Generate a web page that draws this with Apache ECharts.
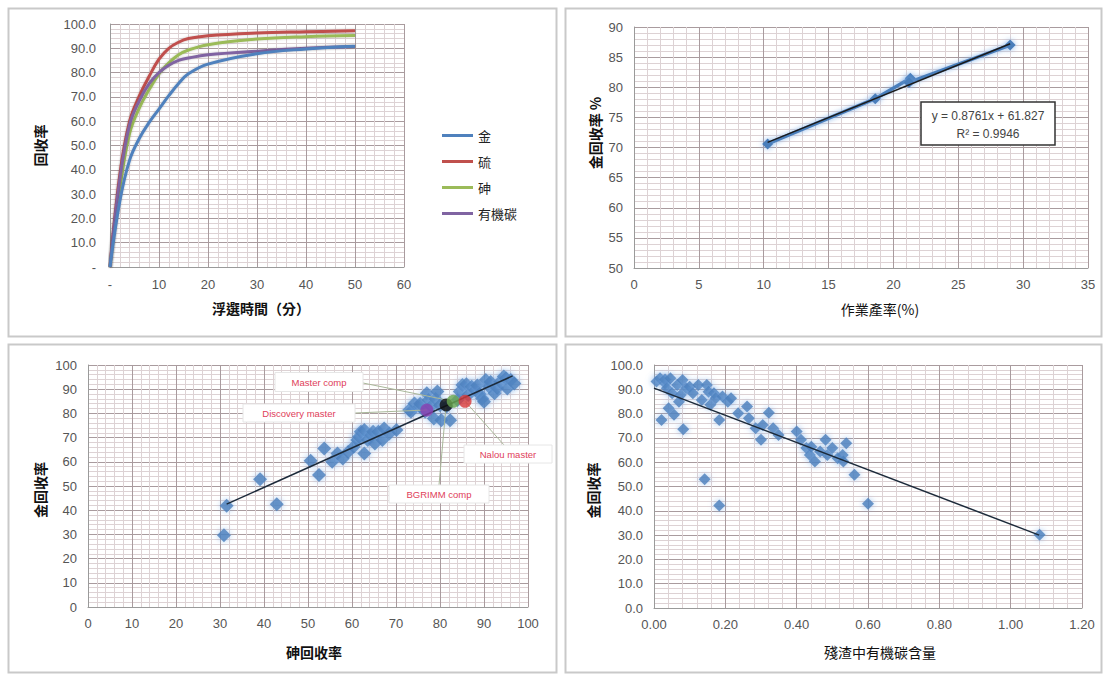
<!DOCTYPE html>
<html><head><meta charset="utf-8">
<script src="https://cdn.jsdelivr.net/npm/echarts@6/dist/echarts.min.js"></script>
<style>html,body{margin:0;padding:0;background:#fff}#c{width:1106px;height:676px}</style>
</head><body><div id="c"></div><script>
// ---------- Panel 1: flotation kinetics ----------
const p1Time    = [0,2,4,6,8,10,12,14,16,20,30,40,50];
const p1Gold    = [0,27,44,53,59.5,65,70.5,75.5,79.5,83.5,87.8,89.7,90.8];
const p1Sulfur  = [0,38,60,70.5,78.5,85.5,90,92.5,94,95.2,96.3,96.8,97.2];
const p1Arsenic = [0,32,55,65.5,73,79.5,84,87.3,89.3,91.5,93.8,94.8,95.3];
const p1Carbon  = [0,36,58.5,68.5,75.5,80,83,85,86,87.3,88.8,90,90.7];
const p1Names   = ['金','硫','砷','有機碳'];

// ---------- Panel 2: yield vs gold recovery ----------
const p2Yield    = [10.3, 18.6, 21.3, 21.2, 29.0];
const p2Recovery = [70.6, 78.1, 81.5, 80.8, 87.0];
const p2TrendX   = [10.3, 29.0];
const p2TrendY   = [70.85, 87.23];
const p2Equation = ['y = 0.8761x + 61.827', 'R² = 0.9946'];

// ---------- Panel 3: arsenic vs gold recovery ----------
const p3As = [30.9,31.5,39.1,42.9,50.6,52.5,53.7,55.5,56.7,57.9,59.1,60.4,61.2,61.6,62.0,62.8,62.8,63.6,64.4,64.8,65.2,66.0,66.9,67.3,68.5,70.1,73.0,73.4,74.2,75.4,75.5,76.6,77.0,77.4,78.0,78.6,79.0,79.4,80.0,80.3,81.5,82.3,84.0,84.5,85.1,86.0,86.4,87.2,88.0,88.5,89.0,89.6,90.0,90.4,91.2,91.5,92.4,93.0,93.7,94.5,95.0,95.3,96.1,96.9];
const p3Au = [29.7,41.8,52.8,42.5,60.4,54.5,65.5,60.0,63.4,61.4,64.1,66.2,69.0,70.3,72.4,63.4,73.1,69.0,71.0,72.4,67.6,72.4,69.0,73.8,71.7,73.1,81.4,80.7,84.1,82.8,84.0,80.7,88.3,85.5,83.0,77.9,86.0,89.0,83.4,77.2,82.8,77.2,85.5,89.0,91.7,92.0,87.6,91.0,89.7,91.5,88.0,86.2,84.8,93.8,91.0,93.0,88.3,90.5,93.1,95.2,94.5,90.3,93.8,92.4];
const p3TrendX = [31.5, 96.5];
const p3TrendY = [42.5, 95.5];
const p3MarkNames = ['Discovery master','BGRIMM comp','Master comp','Nalou master'];
const p3MarkX = [77.0, 81.4, 83.0, 85.7];
const p3MarkY = [81.4, 83.5, 85.0, 85.0];

// ---------- Panel 4: organic carbon in tailings vs gold recovery ----------
const p4C  = [0.007,0.017,0.021,0.031,0.031,0.036,0.041,0.046,0.051,0.056,0.065,0.070,0.075,0.080,0.082,0.090,0.100,0.109,0.124,0.134,0.142,0.148,0.153,0.158,0.168,0.173,0.183,0.183,0.192,0.207,0.216,0.236,0.261,0.266,0.285,0.300,0.305,0.322,0.334,0.349,0.400,0.412,0.427,0.437,0.441,0.451,0.466,0.481,0.486,0.500,0.515,0.529,0.531,0.539,0.562,0.600,1.081];
const p4Au = [93.2,94.5,77.4,92.5,94.0,90.4,82.2,94.5,88.4,79.5,91.8,84.9,87.7,93.8,73.6,90.4,91.1,88.4,91.8,85.6,53.0,91.8,89.0,83.6,88.4,86.3,77.4,42.2,87.0,84.9,86.3,80.1,82.9,78.1,74.0,69.2,75.3,80.4,74.0,71.2,72.6,69.2,65.8,63.0,66.4,60.3,64.4,69.2,63.0,65.8,61.6,63.0,60.3,67.8,54.8,42.9,30.1];
const p4TrendX = [0, 1.08];
const p4TrendY = [90.5, 30.0];

const zip = (a, b) => a.map((v, i) => [v, b[i]]);

const MAJOR = '#a99b9e', MINOR = '#ddd2d4', LBL = '#555';
const FONT = '"Liberation Sans", Arial, sans-serif';
const CJK = '"Noto Sans CJK TC", "Noto Sans CJK SC", sans-serif';

function axis(o) {
  return Object.assign({
    type: 'value',
    axisLine: { show: true, onZero: false, lineStyle: { color: '#9a9a9a', width: 1 } },
    axisTick: { show: false },
    axisLabel: { color: LBL, fontSize: 13, fontFamily: FONT, margin: 10 },
    splitLine: { show: true, lineStyle: { color: MAJOR, width: 1 } },
    minorTick: { show: false, splitNumber: 5 },
    minorSplitLine: { show: true, lineStyle: { color: MINOR, width: 1 } },
    nameLocation: 'middle',
    nameTextStyle: { color: '#111', fontSize: 14, fontFamily: CJK, fontWeight: 'bold' }
  }, o);
}

const grids = [
  { left: 110, top: 24, width: 294, height: 243 },
  { left: 634, top: 27, width: 454, height: 241 },
  { left: 88, top: 365, width: 440, height: 242 },
  { left: 654, top: 365, width: 428, height: 243 }
];

const lineColors = ['#4f81bd', '#c0504d', '#9bbb59', '#8064a2'];
const p1Series = [p1Gold, p1Sulfur, p1Arsenic, p1Carbon].map((d, i) => ({
  name: p1Names[i], type: 'line', xAxisIndex: 0, yAxisIndex: 0,
  data: zip(p1Time, d), smooth: 0.4, showSymbol: false, symbol: 'none',
  lineStyle: { color: lineColors[i], width: 3, shadowColor: 'rgba(0,0,0,0.25)', shadowBlur: 2 },
  itemStyle: { color: lineColors[i] }, z: 3 + (i === 0 ? 1 : 0)
}));

const diamondStyle = { color: '#4a7ebb', shadowColor: 'rgba(120,170,230,0.8)', shadowBlur: 6 };

const option = {
  animation: false,
  backgroundColor: '#fff',
  grid: grids,
  legend: {
    data: p1Names, orient: 'vertical', left: 437, top: 124, itemWidth: 31, itemHeight: 3,
    itemGap: 13, icon: 'rect', textStyle: { fontSize: 13, fontFamily: CJK, color: '#222' },
    selectedMode: false
  },
  xAxis: [
    axis({ gridIndex: 0, min: 0, max: 60, interval: 10, name: '浮選時間（分）', nameGap: 34,
      axisLabel: { color: LBL, fontSize: 13, fontFamily: FONT, margin: 11, formatter: v => v === 0 ? '-' : String(v) },
      nameTextStyle: { color: '#111', fontSize: 14, fontFamily: CJK, fontWeight: 'bold', padding: [0, 0, 0, 8] } }),
    axis({ gridIndex: 1, min: 0, max: 35, interval: 5, name: '作業產率(%)', nameGap: 34,
      nameTextStyle: { color: '#111', fontSize: 14, fontFamily: CJK, padding: [0, 0, 0, 38] } }),
    axis({ gridIndex: 2, min: 0, max: 100, interval: 10, name: '砷回收率', nameGap: 38,
      nameTextStyle: { color: '#111', fontSize: 14, fontFamily: CJK, fontWeight: 'bold', padding: [0, 0, 0, 12] } }),
    axis({ gridIndex: 3, min: 0, max: 1.2, interval: 0.2, name: '殘渣中有機碳含量', nameGap: 37,
      axisLabel: { color: LBL, fontSize: 13, fontFamily: FONT, margin: 10, formatter: v => v.toFixed(2) },
      nameTextStyle: { color: '#111', fontSize: 14, fontFamily: CJK, padding: [0, 0, 0, 24] } })
  ],
  yAxis: [
    axis({ gridIndex: 0, min: 0, max: 100, interval: 10, name: '回收率', nameGap: 63, nameRotate: 90,
      axisLabel: { color: LBL, fontSize: 13, fontFamily: FONT, margin: 14, formatter: v => v === 0 ? '-' : v.toFixed(1) } }),
    axis({ gridIndex: 1, min: 50, max: 90, interval: 5, name: '金回收率 %', nameGap: 32, nameRotate: 90,
      axisLabel: { color: LBL, fontSize: 13, fontFamily: FONT, margin: 11 },
      nameTextStyle: { color: '#111', fontSize: 14, fontFamily: CJK, fontWeight: 'bold', padding: [0, 0, 0, 29] } }),
    axis({ gridIndex: 2, min: 0, max: 100, interval: 10, name: '金回收率', nameGap: 41, nameRotate: 90,
      axisLabel: { color: LBL, fontSize: 13, fontFamily: FONT, margin: 11 },
      nameTextStyle: { color: '#111', fontSize: 14, fontFamily: CJK, fontWeight: 'bold', padding: [0, 8, 0, 0], backgroundColor: '#fff' } }),
    axis({ gridIndex: 3, min: 0, max: 100, interval: 10, name: '金回收率', nameGap: 54, nameRotate: 90,
      axisLabel: { color: LBL, fontSize: 13, fontFamily: FONT, margin: 11, formatter: v => v.toFixed(1) },
      nameTextStyle: { color: '#111', fontSize: 14, fontFamily: CJK, fontWeight: 'bold', padding: [0, 8, 0, 0] } })
  ],
  series: [
    ...p1Series,
    { name: 'p2line', type: 'line', xAxisIndex: 1, yAxisIndex: 1, data: zip(p2Yield, p2Recovery),
      symbol: 'diamond', symbolSize: 11, showSymbol: true,
      lineStyle: { color: '#4a7ebb', width: 3.5, shadowColor: 'rgba(120,170,230,0.9)', shadowBlur: 5 },
      itemStyle: diamondStyle, z: 3 },
    { name: 'p2trend', type: 'line', xAxisIndex: 1, yAxisIndex: 1, data: zip(p2TrendX, p2TrendY),
      symbol: 'none', lineStyle: { color: '#1a1a1a', width: 1.5 }, z: 4 },
    { name: 'p3pts', type: 'scatter', xAxisIndex: 2, yAxisIndex: 2, data: zip(p3As, p3Au),
      symbol: 'diamond', symbolSize: 14, itemStyle: diamondStyle, z: 3 },
    { name: 'p3trend', type: 'line', xAxisIndex: 2, yAxisIndex: 2, data: zip(p3TrendX, p3TrendY),
      symbol: 'none', lineStyle: { color: '#1c2a3a', width: 1.5 }, z: 4 },
    { name: 'p3marks', type: 'scatter', xAxisIndex: 2, yAxisIndex: 2, symbol: 'circle', symbolSize: 13,
      data: p3MarkNames.map((n, i) => ({ name: n, value: [p3MarkX[i], p3MarkY[i]],
        itemStyle: { color: ['#8a3fb0', '#0d0d0d', '#6aa84f', '#d83a3a'][i] } })), z: 5 },
    { name: 'p4pts', type: 'scatter', xAxisIndex: 3, yAxisIndex: 3, data: zip(p4C, p4Au),
      symbol: 'diamond', symbolSize: 12, itemStyle: diamondStyle, z: 3 },
    { name: 'p4trend', type: 'line', xAxisIndex: 3, yAxisIndex: 3, data: zip(p4TrendX, p4TrendY),
      symbol: 'none', lineStyle: { color: '#1c2a3a', width: 1.5 }, z: 4 }
  ],
  graphic: []
};

const chart = echarts.init(document.getElementById('c'), null, { renderer: 'svg', width: 1106, height: 676 });
chart.setOption(option);

// frames, equation box and callouts
const g = [];
[[8, 8, 548, 328], [565, 8, 536, 328], [8, 344, 548, 328], [565, 344, 536, 328]].forEach((r, i) => {
  g.push({ type: 'rect', id: 'frame' + i, z: 0, silent: true,
    shape: { x: r[0] + 0.5, y: r[1] + 0.5, width: r[2], height: r[3] },
    style: { fill: 'none', stroke: '#c9c9c9', lineWidth: 2 } });
});
g.push({ type: 'rect', id: 'eqbox', z: 10, shape: { x: 921, y: 102, width: 134, height: 43 },
  style: { fill: '#fff', stroke: '#333', lineWidth: 1.5 } });
p2Equation.forEach((t, i) => g.push({ type: 'text', id: 'eq' + i, z: 11, x: 988, y: 116 + i * 18,
  style: { text: t, fill: '#444', font: '12px ' + FONT, align: 'center', verticalAlign: 'middle' } }));

const boxes = [
  { c: [299, 413], w: 112, h: 18, anchor: [355, 413] },
  { c: [439, 494], w: 100, h: 18, anchor: [439, 485] },
  { c: [319, 382], w: 88, h: 19, anchor: [363, 383] },
  { c: [508, 454], w: 88, h: 18, anchor: [504, 445] }
];
boxes.forEach((b, i) => {
  const p = chart.convertToPixel({ gridIndex: 2 }, [p3MarkX[i], p3MarkY[i]]);
  g.push({ type: 'line', id: 'lead' + i, z: 4, shape: { x1: b.anchor[0], y1: b.anchor[1], x2: p[0], y2: p[1] },
    style: { stroke: '#a9b89a', lineWidth: 1 } });
  g.push({ type: 'rect', id: 'box' + i, z: 9, shape: { x: b.c[0] - b.w / 2, y: b.c[1] - b.h / 2, width: b.w, height: b.h },
    style: { fill: '#fff', stroke: '#e6e6e6', lineWidth: 1 } });
  g.push({ type: 'text', id: 'bt' + i, z: 10, x: b.c[0], y: b.c[1],
    style: { text: p3MarkNames[i], fill: '#e0405a', font: '9.5px ' + FONT, align: 'center', verticalAlign: 'middle' } });
});
chart.setOption({ graphic: g });
</script></body></html>
